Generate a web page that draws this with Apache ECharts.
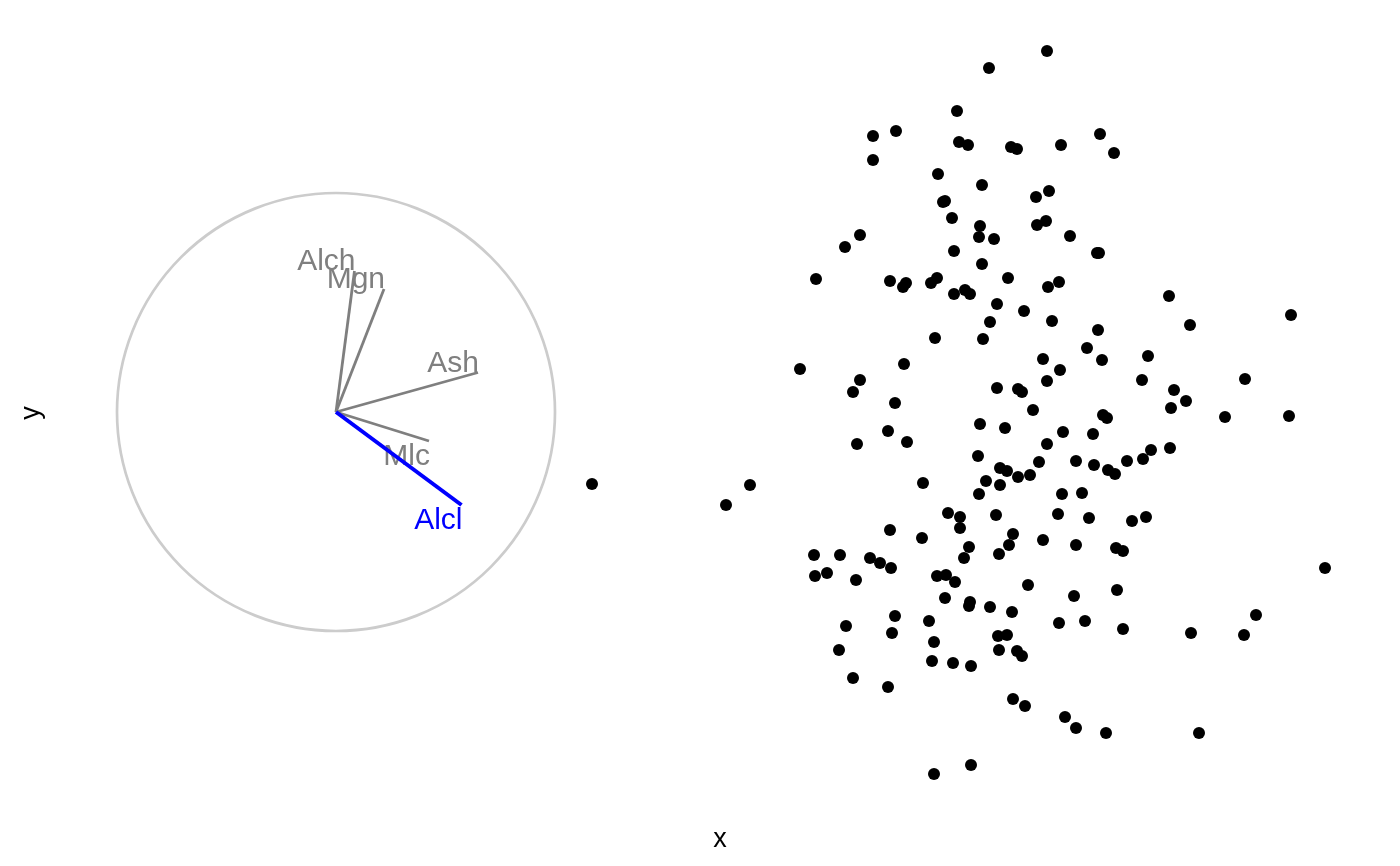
<!DOCTYPE html>
<html>
<head>
<meta charset="utf-8">
<script src="https://cdn.jsdelivr.net/npm/echarts@6/dist/echarts.min.js"></script>
<style>
html,body{margin:0;padding:0;background:#fff;}
#chart{width:1400px;height:866px;}
</style>
</head>
<body>
<div id="chart"></div>
<script>
// Projection axes (variable contributions), in plot units
var axisNames = ['Alch', 'Mgn', 'Ash', 'Mlc', 'Alcl'];
var axisX = [0.185, 0.48, 1.42, 0.93, 1.255];
var axisY = [1.41, 1.23, 0.395, -0.29, -0.93];
var highlighted = 'Alcl';
var circleRadius = 2.19;

// Projected data points
var pointX = [7.11,6.53,6.21,5.60,5.37,5.37,6.23,6.32,6.75,6.81,7.25,7.64,7.78,6.02,6.46,7.00,7.13,6.07,6.09,6.16,
6.44,6.43,6.58,7.01,7.10,7.34,5.24,5.09,7.61,7.63,6.18,6.46,4.80,5.54,5.67,5.70,5.95,6.01,6.72,7.12,
7.23,6.29,6.34,6.18,6.61,6.88,6.54,7.16,6.47,5.99,7.62,8.33,8.54,9.55,7.51,7.66,8.12,7.07,7.24,7.11,
8.06,9.09,6.61,6.82,6.86,8.38,8.50,8.35,6.97,7.67,7.71,5.68,4.64,5.24,5.17,5.59,8.89,9.53,5.52,5.71,
5.21,2.56,4.14,3.90,5.87,6.12,6.24,6.24,5.54,5.86,4.78,5.04,5.34,5.44,5.55,4.91,4.79,5.20,6.28,6.01,
6.10,6.19,6.09,5.59,5.93,5.10,5.56,5.98,5.03,5.96,6.17,5.17,5.52,5.98,6.44,6.69,7.27,7.57,7.11,6.42,
8.34,8.15,8.07,7.91,7.40,7.58,7.72,7.79,7.03,6.64,6.71,6.82,6.94,6.50,6.64,6.43,7.26,7.46,6.60,7.22,
7.53,7.96,8.10,6.77,6.73,6.63,6.33,7.07,7.40,7.80,7.87,9.89,6.92,7.81,7.38,6.34,6.33,6.54,6.76,9.20,
7.23,7.49,7.87,8.55,9.08,6.62,6.71,6.63,6.81,6.86,6.35,6.77,6.89,7.29,7.40,7.70,8.63,6.35];
var pointY = [3.61,3.44,3.01,2.81,2.76,2.52,2.70,2.67,2.65,2.63,2.67,2.78,2.59,2.38,2.27,2.15,2.21,2.10,2.11,1.94,
1.86,1.75,1.73,1.87,1.91,1.76,1.77,1.65,1.59,1.59,1.61,1.48,1.33,1.31,1.25,1.29,1.29,1.34,1.34,1.25,
1.30,1.22,1.18,1.18,1.08,1.01,0.90,0.91,0.73,0.74,0.82,1.16,0.87,0.97,0.64,0.52,0.56,0.53,0.42,0.31,
0.32,0.33,0.24,0.23,0.20,0.22,0.11,0.04,0.02,-0.03,-0.06,0.48,0.43,0.32,0.20,0.09,-0.05,-0.04,-0.19,-0.30,
-0.32,-0.72,-0.73,-0.93,-0.71,-1.01,-1.05,-1.16,-1.18,-1.26,-1.43,-1.43,-1.46,-1.51,-1.56,-1.61,-1.64,-1.68,-1.46,-1.64,
-1.63,-1.70,-1.86,-2.04,-2.09,-2.14,-2.21,-2.30,-2.38,-2.49,-2.51,-2.66,-2.75,-3.62,-0.12,-0.16,-0.20,-0.22,-0.32,-0.44,
-0.36,-0.38,-0.47,-0.49,-0.49,-0.53,-0.58,-0.62,-0.50,-0.56,-0.59,-0.65,-0.63,-0.69,-0.73,-0.82,-0.82,-0.81,-1.03,-1.02,
-1.06,-1.09,-1.05,-1.22,-1.33,-1.42,-1.35,-1.28,-1.33,-1.36,-1.39,-1.56,-1.73,-1.78,-1.84,-1.90,-1.94,-1.95,-2.00,-2.03,
-2.11,-2.09,-2.17,-2.21,-2.23,-2.24,-2.23,-2.38,-2.39,-2.44,-2.54,-2.87,-2.94,-3.05,-3.16,-3.21,-3.21,-3.53];

var FONT = 'Liberation Sans, Arial, Helvetica, sans-serif';
var GREY = '#7f7f7f';
var BLUE = '#0000ff';

var points = pointX.map(function (x, i) { return [x, pointY[i]]; });
var axesData = axisNames.map(function (n, i) { return [axisX[i], axisY[i], n]; });

var chart = echarts.init(document.getElementById('chart'), null, {renderer: 'canvas'});
chart.setOption({
  animation: false,
  backgroundColor: '#ffffff',
  grid: {left: 50, right: 10, top: 10, bottom: 50},
  xAxis: {
    type: 'value', min: -2.86, max: 10.54,
    name: 'x', nameLocation: 'middle', nameGap: 10,
    nameTextStyle: {fontFamily: FONT, fontSize: 27, color: '#000'},
    axisLine: {show: false}, axisTick: {show: false}, axisLabel: {show: false}, splitLine: {show: false}
  },
  yAxis: {
    type: 'value', min: -4.04, max: 4.02,
    name: 'y', nameLocation: 'middle', nameGap: 5, nameRotate: 90,
    nameTextStyle: {fontFamily: FONT, fontSize: 27, color: '#000'},
    axisLine: {show: false}, axisTick: {show: false}, axisLabel: {show: false}, splitLine: {show: false}
  },
  series: [
    {
      type: 'custom',
      silent: true,
      data: [[0, 0]],
      renderItem: function (params, api) {
        var c = api.coord([api.value(0), api.value(1)]);
        var r = api.size([circleRadius, 0])[0];
        return {
          type: 'circle',
          shape: {cx: c[0], cy: c[1], r: r},
          style: {fill: 'none', stroke: '#cccccc', lineWidth: 2.7}
        };
      }
    },
    {
      type: 'custom',
      silent: true,
      data: axesData,
      renderItem: function (params, api) {
        var o = api.coord([0, 0]);
        var vx = api.value(0), vy = api.value(1);
        var e = api.coord([vx, vy]);
        var name = axisNames[params.dataIndex];
        var hl = name === highlighted;
        var col = hl ? BLUE : GREY;
        var up = vy >= 0;
        return {
          type: 'group',
          children: [
            {
              type: 'line',
              shape: {x1: o[0], y1: o[1], x2: e[0], y2: e[1]},
              style: {stroke: col, lineWidth: hl ? 4 : 2.8}
            },
            {
              type: 'text',
              x: e[0] + 1, y: e[1] + (up ? 6 : 1),
              style: {
                text: name, fill: col, fontFamily: FONT, fontSize: 30,
                align: 'right', verticalAlign: up ? 'bottom' : 'top'
              }
            }
          ]
        };
      }
    },
    {
      type: 'scatter',
      data: points,
      symbol: 'circle',
      symbolSize: 12,
      itemStyle: {color: '#000000', opacity: 1},
      silent: true
    }
  ]
});
</script>
</body>
</html>
